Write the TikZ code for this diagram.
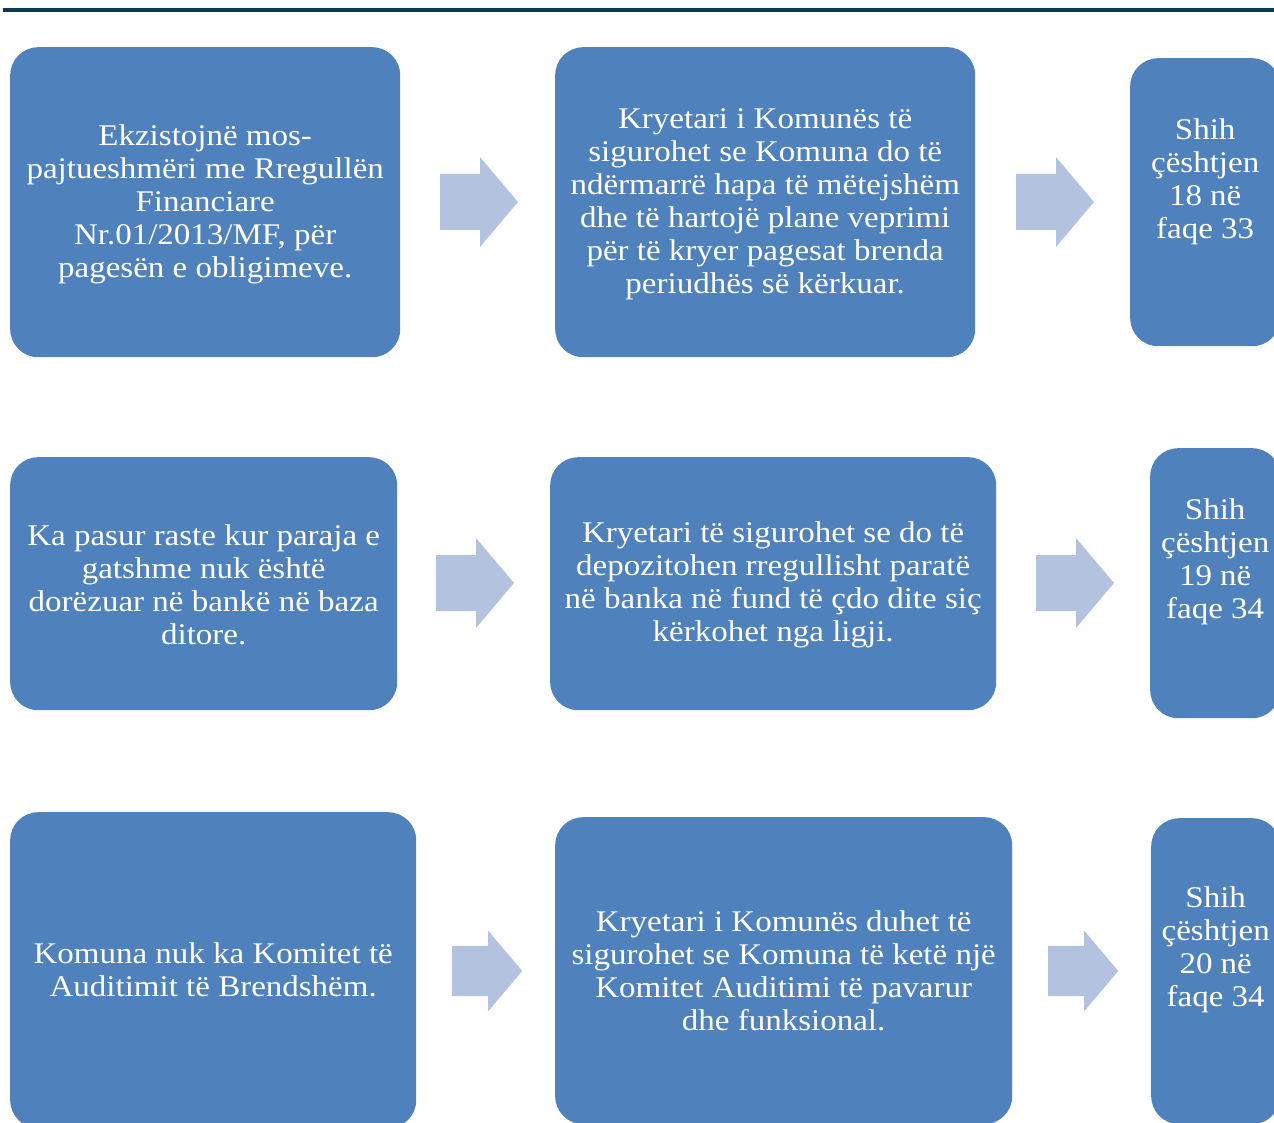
\documentclass[tikz,border=0pt]{standalone}
\usepackage{fontspec}
\setmainfont{Liberation Serif}[FakeStretch=1.1]
\definecolor{boxblue}{RGB}{79,129,189}
\definecolor{arrowblue}{RGB}{179,194,222}
\definecolor{rulenavy}{RGB}{14,58,86}
\tikzset{
  box/.style={fill=boxblue, draw=none, rounded corners=28pt, inner sep=0pt, anchor=north west},
  txt/.style={text=white, align=center, inner sep=0pt, font=\fontsize{30}{33}\selectfont},
  blockarrow/.pic={\fill[arrowblue] (0,-28) -- (40,-28) -- (40,-45) -- (78,0) -- (40,45) -- (40,28) -- (0,28) -- cycle;}
}
\begin{document}
\begin{tikzpicture}[x=1pt,y=-1pt]
\useasboundingbox (0,0) rectangle (1274,1123);
\clip (0,0) rectangle (1274,1123);
\fill[rulenavy] (3,8) rectangle (1274,12);
% row 1
\node[box, minimum width=390pt, minimum height=310pt] (a1) at (10,47) {};
\node[box, minimum width=420pt, minimum height=310pt] (b1) at (555,47) {};
\node[box, minimum width=150pt, minimum height=288pt] (c1) at (1130,58) {};
\node[txt] (a1t) at ([yshift=-2.5pt]a1.center) {Ekzistojnë mos-\\pajtueshmëri me Rregullën\\Financiare\\Nr.01/2013/MF, për\\pagesën e obligimeve.};
\node[txt] (b1t) at ([yshift=-2pt]b1.center) {Kryetari i Komunës të\\sigurohet se Komuna do të\\ndërmarrë hapa të mëtejshëm\\dhe të hartojë plane veprimi\\për të kryer pagesat brenda\\periudhës së kërkuar.};
\node[txt] (c1t) at ([yshift=20pt]c1.center) {Shih\\çështjen\\18 në\\faqe 33};
\pic at (440,202) {blockarrow};
\pic at (1016,202) {blockarrow};
% row 2
\node[box, minimum width=387pt, minimum height=253pt] (a2) at (10,457) {};
\node[box, minimum width=446pt, minimum height=253pt] (b2) at (550,457) {};
\node[box, minimum width=130pt, minimum height=270pt] (c2) at (1150,448) {};
\node[txt] (a2t) at ([yshift=-1pt]a2.center) {Ka pasur raste kur paraja e\\gatshme nuk është\\dorëzuar në bankë në baza\\ditore.};
\node[txt] (b2t) at ([yshift=-1.5pt]b2.center) {Kryetari të sigurohet se do të\\depozitohen rregullisht paratë\\në banka në fund të çdo dite siç\\kërkohet nga ligji.};
\node[txt] (c2t) at ([yshift=21pt]c2.center) {Shih\\çështjen\\19 në\\faqe 34};
\pic at (436,583) {blockarrow};
\pic at (1036,583) {blockarrow};
% row 3
\node[box, minimum width=406pt, minimum height=316pt] (a3) at (10,812) {};
\node[box, minimum width=457pt, minimum height=307pt] (b3) at (555,817) {};
\node[box, minimum width=129pt, minimum height=306pt] (c3) at (1151,818) {};
\node[txt] (a3t) at (a3.center) {Komuna nuk ka Komitet të\\Auditimit të Brendshëm.};
\node[txt] (b3t) at (b3.center) {Kryetari i Komunës duhet të\\sigurohet se Komuna të ketë një\\Komitet Auditimi të pavarur\\dhe funksional.};
\node[txt] (c3t) at ([yshift=21pt]c3.center) {Shih\\çështjen\\20 në\\faqe 34};
\pic[scale=0.9] at (452,971) {blockarrow};
\pic[scale=0.9] at (1048,971) {blockarrow};
\end{tikzpicture}
\end{document}
